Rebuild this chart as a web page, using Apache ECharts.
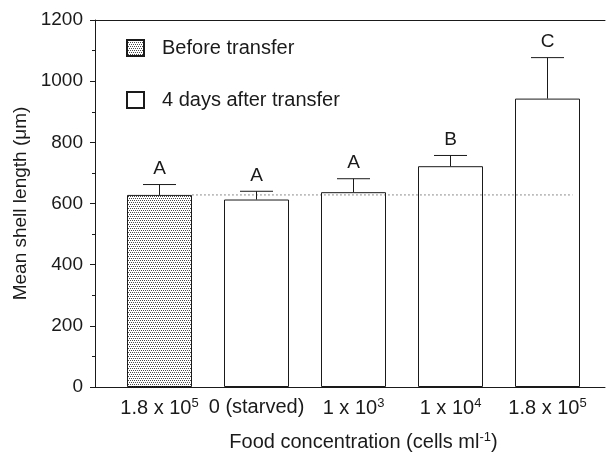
<!DOCTYPE html>
<html><head><meta charset="utf-8">
<script src="https://cdn.jsdelivr.net/npm/echarts@6/dist/echarts.min.js"></script>
<style>html,body{margin:0;padding:0;background:#fff}#c{width:609px;height:454px}</style>
</head><body><div id="c"></div>
<script>
// ---- data ----
const categories = ['1.8 x 10{sup|5}', '0 (starved)', '1 x 10{sup|3}', '1 x 10{sup|4}', '1.8 x 10{sup|5}'];
const beforeValues = [628, '-', '-', '-', '-'];
const afterValues = ['-', 613, 637, 722, 943];
const upperErrors = [662, 640, 681, 757, 1077];
const means = [628, 613, 637, 722, 943];
const letters = ['A', 'A', 'A', 'B', 'C'];
const yTicks = [0, 200, 400, 600, 800, 1000, 1200];
const refLevel = 628;
const refFrom = 0.34, refTo = 4.26;

const FONT = "'Liberation Sans', Arial, sans-serif";
const INK = '#1a1a1a';

// stipple pattern
const pc = document.createElement('canvas');
pc.width = 4; pc.height = 4;
const pctx = pc.getContext('2d');
pctx.fillStyle = '#ffffff'; pctx.fillRect(0, 0, 4, 4);
pctx.fillStyle = '#4a4a4a';
pctx.fillRect(0, 0, 1, 1); pctx.fillRect(2, 0, 1, 1); pctx.fillRect(1, 2, 1, 1); pctx.fillRect(3, 2, 1, 1);
const stipple = { image: pc, repeat: 'repeat' };

const errData = means.map((m, i) => [i, m, upperErrors[i]]);
const chart = echarts.init(document.getElementById('c'), null, { renderer: 'canvas' });
chart.setOption({
  animation: false,
  textStyle: { fontFamily: FONT },
  grid: [
    { left: 95, right: 4, top: 20, bottom: 67, containLabel: false, outerBoundsMode: 'none' },
    { left: 111, width: 485, top: 20, bottom: 67, containLabel: false, outerBoundsMode: 'none' }
  ],
  legend: {
    data: ['Before transfer', '4 days after transfer'],
    orient: 'vertical', left: 126, top: 38, padding: 0,
    itemWidth: 17, itemHeight: 16, itemGap: 32,
    icon: 'rect',
    textStyle: { fontSize: 20, color: INK, fontFamily: FONT, padding: [4, 0, 0, 13] }
  },
  xAxis: [
    { gridIndex: 0, type: 'value', min: 0, max: 1, position: 'bottom',
      axisLine: { show: true, lineStyle: { color: INK, width: 1 } },
      axisTick: { show: false }, axisLabel: { show: false }, splitLine: { show: false } },
    { gridIndex: 0, type: 'value', min: 0, max: 1, position: 'top',
      axisLine: { show: true, lineStyle: { color: INK, width: 1 } },
      axisTick: { show: false }, axisLabel: { show: false }, splitLine: { show: false } },
    { gridIndex: 1, type: 'category', data: categories, boundaryGap: true,
      axisLine: { show: false }, axisTick: { show: false },
      axisLabel: { interval: 0, margin: 10, fontSize: 20, color: INK, fontFamily: FONT,
        formatter: v => v,
        rich: { sup: { fontSize: 13, verticalAlign: 'top', padding: [0, 0, 10, 0], color: INK, fontFamily: FONT } } },
      name: 'Food concentration (cells ml{sup|-1})', nameLocation: 'middle', nameGap: 44,
      nameTextStyle: { fontSize: 20, color: INK, fontFamily: FONT, padding: [0, 0, 0, 20],
        rich: { sup: { fontSize: 13, padding: [0, 0, 10, 0], color: INK, fontFamily: FONT } } } },
    { gridIndex: 1, type: 'value', min: -0.5, max: 4.5, show: false }
  ],
  yAxis: [
    { gridIndex: 0, type: 'value', min: 0, max: 1200, interval: 200,
      axisLine: { show: true, lineStyle: { color: INK, width: 1 } },
      axisTick: { show: true, length: 5, inside: false, lineStyle: { color: INK } },
      minorTick: { show: true, splitNumber: 2, length: 3, lineStyle: { color: INK } },
      splitLine: { show: false },
      axisLabel: { margin: 12, fontSize: 19, color: INK, fontFamily: FONT,
        formatter: v => (yTicks.indexOf(v) >= 0 ? String(v) : '') },
      name: 'Mean shell length (\u03bcm)', nameLocation: 'middle', nameGap: 62,
      nameTextStyle: { fontSize: 19, color: INK, fontFamily: FONT } },
    { gridIndex: 1, type: 'value', min: 0, max: 1200, show: false }
  ],
  series: [
    { name: 'Before transfer', type: 'bar', xAxisIndex: 2, yAxisIndex: 1, data: beforeValues,
      barWidth: 65, barGap: '-100%',
      itemStyle: { color: stipple, borderColor: INK, borderWidth: 1 } },
    { name: '4 days after transfer', type: 'bar', xAxisIndex: 2, yAxisIndex: 1, data: afterValues,
      barWidth: 65, barGap: '-100%',
      itemStyle: { color: '#ffffff', borderColor: INK, borderWidth: 1 } },
    { name: 'ref', type: 'line', xAxisIndex: 3, yAxisIndex: 1, z: 5,
      data: [[refFrom, refLevel], [refTo, refLevel]], symbol: 'none',
      lineStyle: { color: '#222', width: 1, type: [1, 3] } },
    { name: 'err', type: 'custom', xAxisIndex: 2, yAxisIndex: 1, z: 6, data: errData,
      renderItem: function (params, api) {
        const i = api.value(0);
        const p0 = api.coord([i, api.value(1)]);
        const p1 = api.coord([i, api.value(2)]);
        const half = 16.5;
        const st = { stroke: INK, lineWidth: 1 };
        return { type: 'group', children: [
          { type: 'line', shape: { x1: p0[0], y1: p0[1], x2: p1[0], y2: p1[1] }, style: st },
          { type: 'line', shape: { x1: p1[0] - half, y1: p1[1], x2: p1[0] + half, y2: p1[1] }, style: st },
          { type: 'text', x: p1[0], y: p1[1] - 6,
            style: { text: letters[params.dataIndex], x: 0, y: 0, align: 'center', verticalAlign: 'bottom',
              fontSize: 19, fontFamily: FONT, fill: INK } }
        ] };
      } }
  ]
});
</script></body></html>
